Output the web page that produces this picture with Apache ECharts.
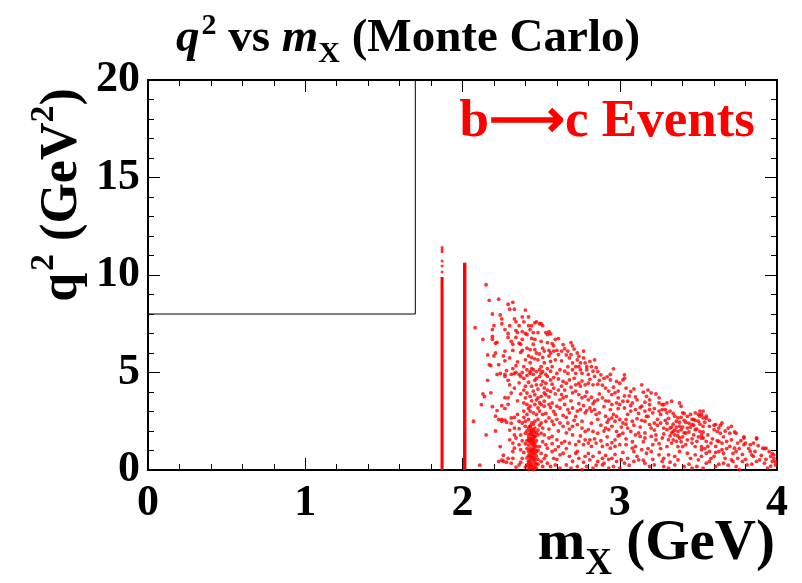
<!DOCTYPE html>
<html>
<head>
<meta charset="utf-8">
<script src="https://cdn.jsdelivr.net/npm/echarts@6/dist/echarts.min.js"></script>
<style>
  html, body { margin: 0; padding: 0; background: #ffffff; }
  #chart { width: 802px; height: 583px; }
</style>
</head>
<body>
<div id="chart"></div>
<script>
// Axis ranges and tick labels
const xTicks = [0, 1, 2, 3, 4];
const yTicks = [0, 5, 10, 15, 20];

// Selection box outline: q2 > 8 GeV^2 and mX < 1.7 GeV
const cutBox = [[0, 8], [1.7, 8], [1.7, 20]];

// Narrow D0 and D* mass peaks (solid columns) and their sparse upper tails
const d0Column = [[1.87, 0], [1.87, 9.9]];
const d0Tail = [[1.87, 10.15], [1.87, 10.46], [1.87, 10.72], [1.87, 11.19], [1.87, 11.29], [1.87, 11.41]];
const dStarColumn = [[2.014, 0], [2.014, 10.63]];

// Higher-mass charm states around 2.42 GeV (dense low-q2 cluster)
const clusterPoints = [
  [2.42,0.05],[2.43,0.12],[2.44,0.08],[2.45,0.2],[2.46,0.15],[2.47,0.3],[2.42,0.35],[2.44,0.4],
  [2.43,0.5],[2.45,0.55],[2.46,0.48],[2.41,0.62],[2.44,0.7],[2.47,0.72],[2.43,0.8],[2.45,0.88],
  [2.42,0.95],[2.44,1.0],[2.46,1.05],[2.43,1.12],[2.45,1.18],[2.47,1.2],[2.42,1.28],[2.44,1.32],
  [2.46,1.38],[2.43,1.45],[2.45,1.5],[2.44,1.58],[2.42,1.65],[2.46,1.7],[2.45,1.78],[2.43,1.85],
  [2.44,1.95],[2.47,1.9],[2.41,1.1],[2.48,0.55],[2.48,1.0],[2.41,0.25],[2.45,0.02],[2.43,0.28],
  [2.44,0.62],[2.46,0.85],[2.42,0.75],[2.45,1.35],[2.44,2.1],[2.43,2.25],[2.45,2.35],
  [2.47,0.1],[2.50,0.44],[2.51,0.18],
  [2.42,0.2],[2.43,0.65],[2.44,0.25],[2.45,0.72],[2.46,0.35],[2.43,1.0],[2.45,1.05],[2.44,1.45],
  [2.46,1.25],[2.42,1.5],[2.44,1.75],[2.45,1.62],[2.43,2.0],[2.45,2.05],[2.44,0.9],[2.46,0.6],
  [2.42,0.45],[2.47,0.95]
];

// Continuum of b->c events for mX above the D* peak
const continuumLow = [
  [2.07,2.5],[2.08,7.3],[2.11,0.25],[2.12,3.35],[2.13,6.7],[2.13,3.9],[2.14,3.76],[2.15,1.8],
  [2.15,9.5],[2.16,4.6],[2.16,5.9],[2.17,8.7],[2.17,5.4],[2.18,3.96],[2.18,5.35],[2.19,3.25],
  [2.19,8.0],[2.19,6.85],[2.19,6.7],[2.19,7.2],[2.20,7.4],[2.20,5.85],[2.21,6.0],[2.21,2.0],
  [2.21,2.76],[2.21,6.5],[2.22,4.9],[2.22,6.55],[2.22,3.05],[2.23,8.76],[2.23,5.4],[2.23,2.59],
  [2.23,0.44],[2.24,4.95],[2.24,7.95],[2.24,1.2],[2.25,7.75],[2.25,7.5],[2.25,2.6],[2.25,3.3],
  [2.25,2.5],[2.25,0.5],[2.26,5.85],[2.26,0.76],[2.26,0.45],
  [2.27,7.2],[2.27,6.1],[2.27,5.6],[2.27,4.9],[2.27,4.8],[2.27,3.71],[2.27,3.16],[2.27,2.56],
  [2.28,2.45],[2.28,0.4],[2.29,8.5],[2.29,7.0],[2.29,6.8],[2.29,3.7],[2.29,3.37],[2.29,0.6],
  [2.30,8.25],[2.30,7.4],[2.30,4.37],[2.30,2.05],[2.31,4.9],[2.31,2.67],[2.31,0.35],[2.32,8.6],
  [2.32,6.45],[2.32,6.13],[2.32,1.38],[2.32,0.95],[2.33,8.25],[2.33,7.75],[2.33,4.95],[2.33,2.7],
  [2.33,1.12],[2.33,2.15],[2.33,1.8],[2.34,1.64],[2.34,7.6],[2.34,7.15],[2.34,5.35],[2.34,5.0],
  [2.35,7.05],[2.36,6.5],[2.36,4.9],[2.36,4.47],[2.36,1.3],[2.36,0.26],[2.36,2.12],[2.36,2.5],
  [2.37,6.45],[2.37,6.03],[2.37,4.8],[2.37,1.04],[2.37,1.8],[2.38,7.85],[2.38,7.1],[2.38,6.13],
  [2.38,0.6],[2.38,2.41],[2.39,5.3],[2.39,4.7],[2.39,3.44],[2.39,3.02],[2.40,8.2],[2.40,7.0],
  [2.40,4.3],[2.40,2.5],[2.40,2.24],[2.40,1.89],[2.41,3.95],[2.41,3.36],[2.41,2.85],[2.41,4.85],
  [2.41,5.14],[2.41,6.25],[2.42,7.85],[2.42,7.4],[2.42,5.85],[2.42,2.59],[2.42,1.8],[2.43,6.17],
  [2.43,5.05],[2.43,4.96],[2.43,3.78],[2.43,3.27],[2.43,3.02],[2.43,2.24],[2.44,7.4],[2.44,6.75],
  [2.44,5.77],[2.44,4.3],[2.44,2.41],[2.44,1.89],[2.45,7.05],[2.45,5.14],[2.45,4.9],[2.45,2.93],
  [2.46,7.55],[2.46,6.7],[2.46,6.17],[2.46,5.7],[2.46,3.86],[2.46,3.36],[2.46,2.5],[2.46,2.15],
  [2.46,1.72],[2.47,7.6],[2.47,5.05],[2.47,4.7],[2.47,4.37],[2.47,2.85],[2.48,5.65],[2.48,3.7],
  [2.48,3.18],[2.48,2.59],[2.48,2.05],[2.48,1.8],[2.49,7.5],[2.49,5.14],[2.49,4.8],[2.49,3.02],
  [2.50,7.5],[2.50,5.3],[2.50,4.96],[2.50,4.37],[2.50,3.78],[2.50,3.36],[2.50,2.41],[2.50,1.89],
  [2.51,7.4],[2.51,6.25],[2.51,5.77],[2.51,2.85],[2.51,2.15],[2.51,4.55],[2.52,5.5],[2.52,4.2],
  [2.52,3.27],[2.52,3.53],[2.52,1.8],[2.53,4.9],[2.53,3.86],[2.53,2.5],[2.53,7.05],[2.53,2.9],
  [2.53,0.75],
  [2.28,5.1],[2.29,4.6],[2.30,5.75],[2.31,6.6],[2.31,3.95],[2.32,5.2],[2.33,4.2],[2.34,6.8],
  [2.35,3.55],[2.35,5.55],[2.36,7.4],[2.37,3.9],[2.38,5.0],[2.38,6.7],[2.39,4.1],[2.39,7.6],
  [2.40,5.65],[2.40,3.7],[2.41,6.95],[2.42,4.5],[2.42,3.15],[2.43,5.5],[2.43,7.2],[2.44,3.55],
  [2.44,5.2],[2.45,4.05],[2.45,6.45],[2.46,4.6],[2.47,3.6],[2.47,6.0],[2.48,4.15],[2.48,7.05],
  [2.49,5.95],[2.49,3.45],[2.50,6.6],[2.51,5.05],[2.52,3.95],[2.52,6.1],[2.53,4.45],
  [2.30,1.55],[2.31,2.4],[2.32,0.6],[2.34,0.15],[2.35,2.85],[2.37,0.4],[2.38,1.5],[2.39,2.7],
  [2.39,0.9],[2.40,1.35],[2.40,0.15],[2.41,2.0],[2.41,1.5],[2.42,2.15],[2.43,1.6],[2.46,1.95],
  [2.47,1.5],[2.48,0.3],[2.49,1.2],[2.49,2.3],[2.50,0.85],[2.51,1.45],[2.52,0.6],[2.53,1.3]
];

const continuumMid = [
  [2.54,6.95],[2.54,6.53],[2.54,4.8],[2.54,4.1],[2.54,1.12],[2.54,0.35],[2.55,7.1],[2.55,6.13],
  [2.55,3.36],[2.55,2.67],[2.55,1.64],[2.55,2.1],[2.56,6.98],[2.56,6.0],[2.56,5.57],[2.56,5.07],
  [2.56,4.62],[2.56,4.03],[2.56,0.18],[2.57,6.48],[2.57,5.3],[2.57,3.44],[2.57,2.5],[2.57,1.72],
  [2.57,0.95],[2.57,1.35],[2.58,6.37],[2.58,4.74],[2.58,4.2],[2.58,2.33],[2.58,3.0],[2.58,6.1],
  [2.59,6.7],[2.59,5.65],[2.59,1.04],[2.59,0.26],[2.59,2.85],[2.60,6.13],[2.60,3.27],[2.60,1.55],
  [2.60,0.55],[2.61,6.74],[2.61,5.92],[2.61,4.67],[2.61,4.1],[2.61,2.0],[2.62,5.14],[2.62,3.18],
  [2.62,2.41],[2.62,0.78],[2.62,0.1],[2.63,3.87],[2.63,1.38],[2.63,4.3],[2.63,5.6],[2.64,6.43],
  [2.64,4.54],[2.64,3.7],[2.64,2.24],[2.64,0.86],[2.65,6.22],[2.65,5.07],[2.65,3.36],[2.65,1.47],
  [2.66,4.45],[2.66,3.78],[2.66,0.26],[2.66,2.7],[2.66,1.9],[2.66,5.9],[2.67,6.1],[2.67,4.96],
  [2.67,3.1],[2.67,2.41],[2.68,5.75],[2.68,4.62],[2.68,2.93],[2.68,1.38],[2.68,0.7],[2.69,6.53],
  [2.69,5.92],[2.69,0.1],[2.69,4.25],[2.70,6.37],[2.70,5.49],[2.70,5.14],[2.70,3.96],[2.70,3.18],
  [2.70,2.24],[2.70,0.45],[2.71,2.55],[2.72,4.96],[2.72,4.37],[2.72,4.05],[2.72,1.3],[2.72,0.86],
  [2.72,5.3],[2.73,6.0],[2.73,5.65],[2.73,3.02],[2.73,2.33],[2.73,0.18],[2.74,5.83],[2.74,5.3],
  [2.74,4.45],[2.74,3.87],[2.74,1.47],[2.74,0.6],[2.75,5.49],[2.75,5.14],[2.75,3.1],[2.75,1.75],
  [2.76,4.96],[2.76,4.57],[2.76,3.7],[2.76,2.15],[2.76,0.02],[2.77,6.1],[2.77,1.3],[2.77,3.3],
  [2.78,5.49],[2.78,4.37],[2.78,3.78],[2.78,2.93],[2.78,1.98],[2.78,0.7],[2.79,5.3],[2.79,5.14],
  [2.79,0.18],[2.79,4.0],[2.80,4.45],[2.80,3.6],[2.80,2.07],[2.80,1.38],[2.80,4.9],[2.81,5.57],
  [2.81,3.18],[2.81,0.52],[2.81,1.55],[2.82,5.3],[2.82,3.73],[2.82,3.02],[2.82,1.21],[2.83,5.07],
  [2.83,4.37],[2.83,1.98],[2.83,0.7],[2.83,0.1],[2.84,5.65],[2.84,3.53],[2.84,3.1],[2.85,5.25],
  [2.85,2.85],[2.85,1.38],[2.86,4.4],[2.86,3.6],[2.86,1.89],[2.86,0.44],[2.86,5.05],[2.87,2.93],
  [2.87,4.6],[2.87,0.9],[2.88,4.88],[2.88,2.3],[2.89,3.7],[2.89,1.21],[2.89,0.6],[2.89,0.26],
  [2.90,4.7],[2.90,3.25],[2.91,4.2],[2.91,2.76],[2.91,2.15],[2.91,0.75],[2.92,4.78],[2.92,1.3],
  [2.92,1.7],[2.93,4.05],[2.93,3.53],[2.93,2.59],[2.93,2.07],[2.93,0.1],[2.94,4.62],[2.94,1.12],
  [2.95,3.87],[2.95,3.36],[2.95,2.67],[2.95,2.24],[2.95,0.6],[2.96,5.19],[2.96,0.18],[2.96,2.85],
  [2.97,3.96],[2.97,2.5],[2.97,1.21],[2.97,1.55],[2.98,4.54],[2.98,3.44],[2.98,1.98],[2.98,0.44],
  [2.99,4.05],[2.99,3.15],[3.00,4.45],[3.00,3.36],[3.00,2.59],[3.00,1.8],[3.00,1.3],[3.00,0.1],
  [3.01,0.52],[3.02,4.62],[3.02,3.53],[3.02,2.41],[3.02,1.89],[3.03,4.88],[3.03,0.35],
  [2.54,5.2],[2.55,3.75],[2.55,5.85],[2.56,3.2],[2.57,4.4],[2.58,0.6],[2.59,3.9],[2.60,4.95],
  [2.60,2.6],[2.61,1.2],[2.62,3.6],[2.63,6.1],[2.64,2.8],[2.65,4.1],[2.66,1.1],[2.67,5.3],
  [2.68,2.1],[2.69,3.55],[2.70,1.8],[2.71,4.7],[2.71,6.2],[2.72,2.75],[2.73,0.95],[2.74,3.4],
  [2.75,4.3],[2.76,2.5],[2.77,5.75],[2.77,0.4],[2.78,1.55],[2.79,3.05],[2.80,0.85],[2.81,4.65],
  [2.82,2.4],[2.83,3.4],[2.84,1.6],[2.84,4.8],[2.85,0.25],[2.86,2.6],[2.87,3.9],[2.88,1.5],
  [2.89,4.35],[2.90,2.0],[2.90,0.35],[2.91,3.55],[2.92,2.45],[2.93,0.55],[2.94,3.1],[2.94,4.9],
  [2.95,1.4],[2.96,4.25],[2.97,0.8],[2.98,2.75],[2.99,1.75],[2.99,3.7]
];

const continuumHigh = [
  [3.03,4.7],[3.03,3.18],[3.04,4.2],[3.04,2.59],[3.04,1.3],[3.04,2.35],[3.05,3.53],[3.05,2.15],
  [3.05,0.6],[3.06,3.8],[3.07,4.03],[3.07,3.02],[3.07,1.98],[3.08,3.44],[3.08,2.5],[3.08,1.12],
  [3.09,4.16],[3.09,0.44],[3.09,0.95],[3.10,3.1],[3.10,1.8],[3.10,1.21],[3.11,3.6],[3.11,2.63],
  [3.12,0.52],[3.12,2.9],[3.13,1.72],[3.13,2.2],[3.14,4.37],[3.14,3.27],[3.14,1.04],[3.15,3.99],
  [3.15,1.45],[3.16,3.48],[3.16,3.02],[3.16,2.5],[3.16,1.64],[3.16,0.35],[3.17,3.78],[3.17,0.86],
  [3.18,2.75],[3.18,4.1],[3.19,3.6],[3.19,3.1],[3.19,2.33],[3.19,0.18],[3.20,3.96],[3.20,1.72],
  [3.20,0.95],[3.21,2.93],[3.21,1.3],[3.22,2.41],[3.22,0.26],[3.22,2.05],[3.23,3.9],[3.23,1.55],
  [3.24,2.6],[3.25,3.7],[3.25,3.44],[3.25,3.02],[3.25,0.78],[3.26,2.41],[3.26,1.1],[3.27,3.1],
  [3.27,1.64],[3.27,3.35],[3.28,3.36],[3.28,2.15],[3.28,0.6],[3.28,0.18],[3.29,2.55],[3.30,3.44],
  [3.30,2.93],[3.30,2.07],[3.31,1.55],[3.31,0.78],[3.31,0.1],[3.32,3.02],[3.32,2.15],[3.33,3.53],
  [3.33,1.38],[3.33,1.9],[3.34,1.98],[3.34,2.35],[3.35,2.76],[3.35,1.8],[3.35,0.7],[3.35,0.26],
  [3.36,1.47],[3.36,2.2],[3.37,2.67],[3.37,1.98],[3.37,0.52],[3.37,1.2],[3.38,3.44],[3.38,1.64],
  [3.38,2.45],[3.39,3.27],[3.39,2.07],[3.40,2.93],[3.40,1.2],[3.40,1.7],[3.41,0.18],[3.41,2.55],
  [3.42,1.9],[3.43,2.15],[3.43,1.55],[3.43,0.86],[3.44,2.4],[3.45,2.85],[3.45,0.6],[3.46,2.33],
  [3.46,1.38],[3.46,0.1],[3.47,2.6],[3.47,1.8],[3.48,2.93],[3.48,2.07],[3.48,0.78],[3.49,1.47],
  [3.49,0.18],[3.50,2.5],[3.50,0.52],[3.51,2.76],[3.51,1.98],[3.51,3.02],[3.52,1.64],[3.52,1.2],
  [3.52,2.85],[3.52,1.8],[3.52,1.04],[3.53,3.02],[3.53,2.24],[3.53,0.1],[3.53,2.67],[3.53,1.64],
  [3.55,2.76],[3.55,2.65],[3.55,1.47],[3.55,0.86],[3.55,0.35],[3.56,1.21],[3.57,2.24],[3.57,0.95],
  [3.57,0.44],[3.58,1.38],[3.60,2.07],[3.60,0.7],[3.61,2.33],[3.61,1.21],[3.61,0.18],[3.62,1.98],
  [3.63,2.15],[3.63,1.47],[3.63,0.95],[3.64,1.89],[3.65,2.41],[3.65,1.38],[3.65,1.04],[3.66,0.86],
  [3.66,0.35],[3.68,1.47],[3.69,2.15],[3.70,1.89],[3.70,1.21],[3.71,2.24],[3.71,0.52],[3.72,0.44],
  [3.73,1.12],[3.74,1.89],[3.74,0.95],[3.74,0.18],[3.75,1.38],[3.76,0.02],[3.78,0.44],[3.79,1.64],
  [3.79,1.3],[3.79,1.7],[3.80,1.38],[3.81,0.26],[3.83,1.3],[3.83,0.95],[3.84,0.78],[3.85,1.38],
  [3.85,0.7],[3.87,1.64],[3.87,0.44],[3.87,1.6],[3.89,0.52],[3.91,1.12],[3.92,0.35],[3.92,1.1],
  [3.93,1.12],[3.94,0.1],[3.96,0.7],[3.97,0.44],[3.97,0.85],[3.98,0.78],[3.99,0.44],[3.99,0.26],
  [3.01,2.2],[3.02,0.9],[3.03,3.8],[3.04,1.6],[3.05,2.85],[3.06,0.25],[3.07,3.3],[3.08,1.45],
  [3.09,2.3],[3.10,3.75],[3.11,0.7],[3.12,1.9],[3.13,3.2],[3.14,2.55],[3.15,0.5],[3.16,1.9],
  [3.17,2.75],[3.18,1.1],[3.19,3.35],[3.20,2.15],[3.21,0.55],[3.22,3.15],[3.23,1.8],[3.24,2.3],
  [3.25,1.35],[3.26,2.85],[3.27,0.45],[3.28,1.85],[3.29,3.1],[3.30,2.4],[3.30,1.2],[3.31,2.65],
  [3.32,1.75],[3.32,0.4],[3.33,2.2],[3.34,2.9],[3.34,1.55],[3.35,2.05],[3.36,2.5],[3.37,1.75],
  [3.38,2.25],[3.38,0.95],[3.39,2.7],[3.39,1.45],[3.40,2.2],[3.41,1.9],[3.41,2.9],[3.42,2.45],
  [3.42,1.3],[3.43,2.75],[3.44,1.95],[3.44,0.3],[3.45,2.2],[3.46,2.6],[3.46,1.6],[3.47,2.3],
  [3.48,1.2],[3.48,2.55],[3.49,2.1],[3.50,2.85],[3.50,1.7],[3.51,2.35],[3.52,0.7],[3.53,1.95],
  [3.54,2.45],[3.54,1.1],
  [3.56,1.8],[3.57,2.55],[3.58,0.6],[3.59,1.6],[3.60,2.3],[3.61,0.9],[3.62,1.5],[3.63,0.3],
  [3.64,2.3],[3.66,1.7],[3.67,2.0],[3.67,0.6],[3.68,1.1],[3.69,0.25],[3.71,1.55],[3.72,0.85],
  [3.73,1.95],[3.75,0.6],[3.76,1.1],[3.77,1.5],[3.78,0.8],[3.80,0.55],[3.82,1.1],[3.84,0.3],
  [3.86,0.95],[3.88,1.25],[3.90,0.75],[3.93,0.55],[3.95,0.95],[3.96,0.2],[3.98,0.6]
];

const SERIF = '"Liberation Serif", "Times New Roman", serif';
const RED = '#ff0000';

// Lay out a line of mixed-size text pieces (sub/superscripts) as graphic texts.
const measureCtx = document.createElement('canvas').getContext('2d');
function textWidth(t, size, italic) {
  measureCtx.font = (italic ? 'italic ' : '') + 'bold ' + size + 'px ' + SERIF;
  return measureCtx.measureText(t).width;
}
function pieces(parts, color) {
  let x = 0;
  const out = [];
  parts.forEach(p => {
    out.push({
      type: 'text', x: x, y: (p.dy || 0) - 0.34 * p.s,
      style: {
        text: p.t, fill: color, fontSize: p.s, fontWeight: 'bold',
        fontStyle: p.it ? 'italic' : 'normal', fontFamily: SERIF,
        align: 'left', verticalAlign: 'middle'
      }
    });
    x += textWidth(p.t, p.s, p.it) + (p.gap || 0);
  });
  return { children: out, width: x };
}

const titleLine = pieces([
  { t: 'q', s: 47, it: true, gap: 2 },
  { t: '2', s: 30, dy: -19 },
  { t: ' vs ', s: 47 },
  { t: 'm', s: 47, it: true },
  { t: 'X', s: 30, dy: 9 },
  { t: ' (Monte Carlo)', s: 47 }
], '#000');

const yTitleLine = pieces([
  { t: 'q', s: 52, gap: 2 },
  { t: '2', s: 34, dy: -24 },
  { t: ' (GeV', s: 52 },
  { t: '2', s: 34, dy: -24 },
  { t: ')', s: 52 }
], '#000');

const xTitleLine = pieces([
  { t: 'm', s: 57 },
  { t: 'X', s: 37, dy: 13 },
  { t: ' (GeV)', s: 57 }
], '#000');

const chart = echarts.init(document.getElementById('chart'), null, { renderer: 'canvas' });

function frameAxis(extra) {
  return Object.assign({
    type: 'value',
    axisLine: { show: true, onZero: false, lineStyle: { color: '#000', width: 2 } },
    axisTick: { show: true, inside: true, length: 12, lineStyle: { color: '#000', width: 1 } },
    minorTick: { show: true, splitNumber: 5, length: 6, lineStyle: { color: '#000', width: 1 } },
    splitLine: { show: false },
    minorSplitLine: { show: false }
  }, extra);
}
const labelStyle = {
  color: '#000', fontFamily: SERIF, fontWeight: 'bold', fontSize: 44
};

const scatterStyle = { color: RED };

chart.setOption({
  animation: false,
  backgroundColor: '#ffffff',
  grid: { left: 148, right: 25, top: 80, bottom: 113, containLabel: false },
  xAxis: [
    frameAxis({ position: 'bottom', min: xTicks[0], max: xTicks[xTicks.length - 1], interval: 1,
      axisLabel: Object.assign({ show: true, margin: 12 }, labelStyle) }),
    frameAxis({ position: 'top', min: xTicks[0], max: xTicks[xTicks.length - 1], interval: 1,
      axisLabel: { show: false } })
  ],
  yAxis: [
    frameAxis({ position: 'left', min: yTicks[0], max: yTicks[yTicks.length - 1], interval: 5,
      axisLabel: Object.assign({ show: true, margin: 8 }, labelStyle) }),
    frameAxis({ position: 'right', min: yTicks[0], max: yTicks[yTicks.length - 1], interval: 5,
      axisLabel: { show: false } })
  ],
  series: [
    { type: 'line', data: cutBox, symbol: 'none', lineStyle: { color: '#000', width: 1 }, z: 3 },
    { type: 'line', data: d0Column, symbol: 'none', lineStyle: { color: RED, width: 3 } },
    { type: 'line', data: dStarColumn, symbol: 'none', lineStyle: { color: RED, width: 3.4 } },
    { type: 'scatter', data: d0Tail, symbol: 'circle', symbolSize: 3, itemStyle: scatterStyle },
    { type: 'scatter', data: clusterPoints, symbol: 'circle', symbolSize: 3.8, itemStyle: scatterStyle },
    { type: 'scatter', data: continuumLow, symbol: 'circle', symbolSize: 3.8, itemStyle: scatterStyle },
    { type: 'scatter', data: continuumMid, symbol: 'circle', symbolSize: 3.8, itemStyle: scatterStyle },
    { type: 'scatter', data: continuumHigh, symbol: 'circle', symbolSize: 3.8, itemStyle: scatterStyle }
  ],
  graphic: [
    { type: 'group', x: 408 - titleLine.width / 2, y: 55, children: titleLine.children },
    { type: 'group', x: 80, y: 195 + yTitleLine.width / 2, rotation: Math.PI / 2, children: yTitleLine.children },
    { type: 'group', x: 775 - xTitleLine.width, y: 564, children: xTitleLine.children },
    { type: 'text', x: 755, y: 140 - 0.34 * 53,
      style: { text: 'b\u27F6c Events', fill: RED, fontSize: 53, fontWeight: 'bold',
        fontFamily: SERIF, align: 'right', verticalAlign: 'middle' } }
  ]
});
</script>
</body>
</html>
